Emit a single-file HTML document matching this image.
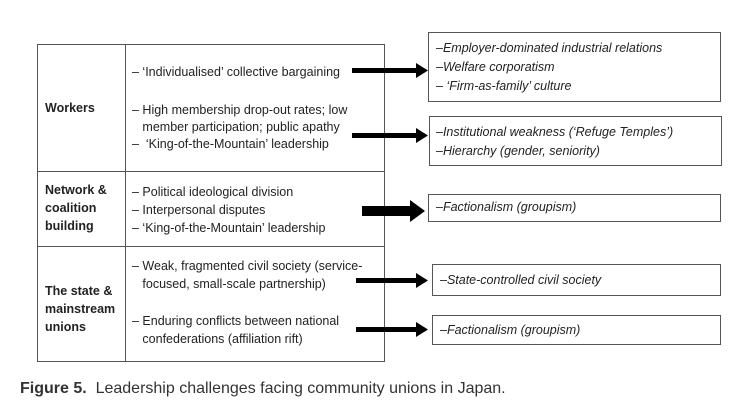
<!DOCTYPE html>
<html><head><meta charset="utf-8"><style>
body{margin:0;width:732px;height:415px;background:#fff;position:relative;overflow:hidden;font-family:"Liberation Sans",Arial,sans-serif;color:#222}
.a{position:absolute}
.t{font-size:12.5px;line-height:15px;position:absolute;white-space:nowrap}
.b{font-weight:bold}
.box{position:absolute;border:1px solid #555;box-sizing:border-box}
.i{font-style:italic}
</style></head><body>
<div class="box" style="left:37px;top:44px;width:348px;height:318px"></div>
<div class="a" style="left:125px;top:44px;width:1px;height:318px;background:#555"></div>
<div class="a" style="left:37px;top:171px;width:348px;height:1px;background:#555"></div>
<div class="a" style="left:37px;top:246px;width:348px;height:1px;background:#555"></div>

<div class="t b" style="left:45px;top:101px">Workers</div>
<div class="t b" style="left:45px;top:181px;line-height:18px">Network &amp;<br>coalition<br>building</div>
<div class="t b" style="left:45px;top:282px;line-height:18px">The state &amp;<br>mainstream<br>unions</div>

<div class="t" style="left:132px;top:65px">– ‘Individualised’ collective bargaining</div>
<div class="t" style="left:132px;top:102px;line-height:17px">– High membership drop-out rates; low<br>&nbsp;&nbsp;&nbsp;member participation; public apathy<br>–&nbsp; ‘King-of-the-Mountain’ leadership</div>
<div class="t" style="left:132px;top:183px;line-height:18px">– Political ideological division<br>– Interpersonal disputes<br>– ‘King-of-the-Mountain’ leadership</div>
<div class="t" style="left:132px;top:257px;line-height:18px">– Weak, fragmented civil society (service-<br>&nbsp;&nbsp;&nbsp;focused, small-scale partnership)</div>
<div class="t" style="left:132px;top:312px;line-height:18px">– Enduring conflicts between national<br>&nbsp;&nbsp;&nbsp;confederations (affiliation rift)</div>

<svg class="a" style="left:0;top:0" width="732" height="415">
<g fill="#000">
<rect x="352" y="68" width="66" height="5"/><polygon points="416,63 428,70.5 416,78"/>
<rect x="352" y="133" width="66" height="5"/><polygon points="416,128 428,135.5 416,143"/>
<rect x="362" y="206" width="50" height="10"/><polygon points="410,200 425,211 410,222"/>
<rect x="356" y="278" width="62" height="5"/><polygon points="416,273 428,280.5 416,288"/>
<rect x="356" y="327" width="62" height="5"/><polygon points="416,322 428,329.5 416,337"/>
</g></svg>

<div class="box" style="left:428px;top:32px;width:293px;height:70px"></div>
<div class="t i" style="left:436px;top:39px;line-height:19px">–Employer-dominated industrial relations<br>–Welfare corporatism<br>– ‘Firm-as-family’ culture</div>
<div class="box" style="left:429px;top:116px;width:293px;height:50px"></div>
<div class="t i" style="left:436px;top:123px;line-height:19px">–Institutional weakness (‘Refuge Temples’)<br>–Hierarchy (gender, seniority)</div>
<div class="box" style="left:428px;top:194px;width:293px;height:28px"></div>
<div class="t i" style="left:436px;top:200px">–Factionalism (groupism)</div>
<div class="box" style="left:432px;top:264px;width:289px;height:32px"></div>
<div class="t i" style="left:440px;top:273px">–State-controlled civil society</div>
<div class="box" style="left:432px;top:315px;width:289px;height:30px"></div>
<div class="t i" style="left:440px;top:323px">–Factionalism (groupism)</div>

<div class="a" style="left:20px;top:380px;font-size:16px;white-space:nowrap;color:#333"><b>Figure 5.</b>&nbsp; Leadership challenges facing community unions in Japan.</div>
</body></html>
